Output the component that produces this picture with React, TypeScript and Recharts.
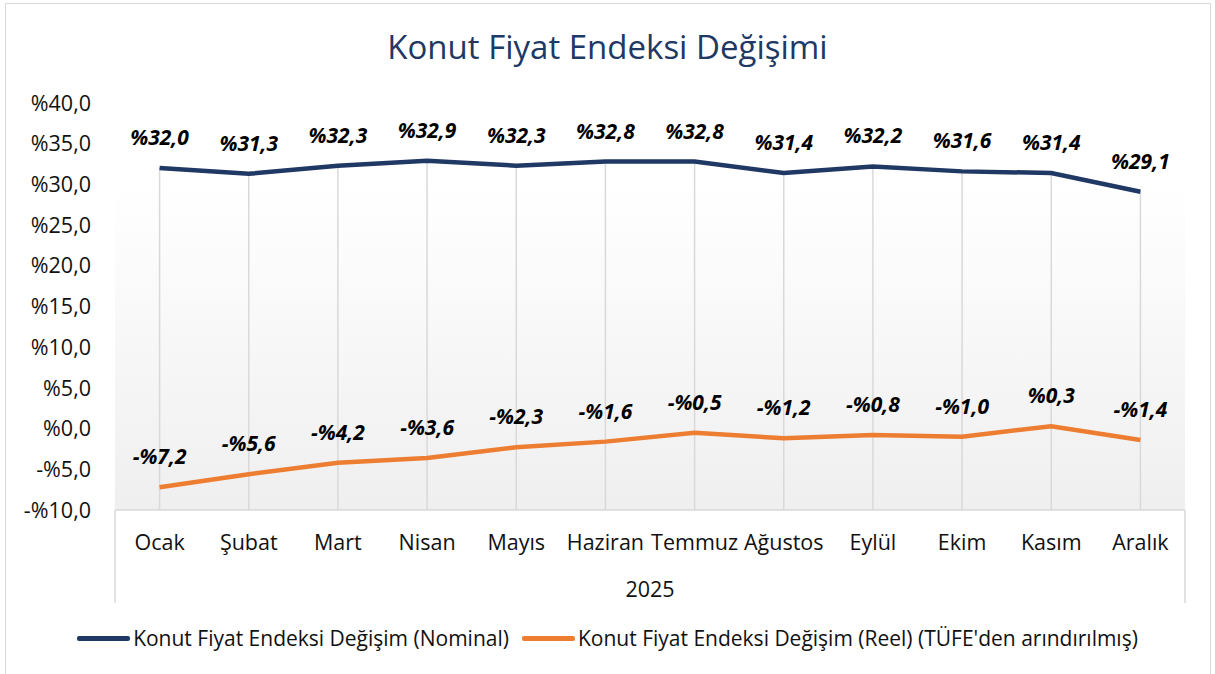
import { LineChart, Line, XAxis, YAxis, CartesianGrid, ReferenceLine, LabelList } from "recharts";

document.body.style.margin = "0";

const months = ["Ocak", "Şubat", "Mart", "Nisan", "Mayıs", "Haziran", "Temmuz", "Ağustos", "Eylül", "Ekim", "Kasım", "Aralık"];
const nominal = [32.0, 31.3, 32.3, 32.9, 32.3, 32.8, 32.8, 31.4, 32.2, 31.6, 31.4, 29.1];
const reel = [-7.2, -5.6, -4.2, -3.6, -2.3, -1.6, -0.5, -1.2, -0.8, -1.0, 0.3, -1.4];
const yTicks = [-10, -5, 0, 5, 10, 15, 20, 25, 30, 35, 40];

const data = months.map((m, i) => ({ month: m, nominal: nominal[i], reel: reel[i] }));

const NAVY = "#203864";
const ORANGE = "#ED7D31";
const GRID = "#d9d9d9";
const FONT = "'Open Sans', sans-serif";

const W = 1215;
const H = 674;
const X_AXIS_H = 95;
const M = { top: 103, right: 30, bottom: 69, left: 0 };
const Y_AXIS_W = 115;
const PLOT_W = W - M.left - M.right - Y_AXIS_W;
const AXIS_Y = H - M.bottom - X_AXIS_H;
const BAND = PLOT_W / months.length;

const pct = (v: number) => (v < 0 ? "-%" : "%") + Math.abs(v).toFixed(1).replace(".", ",");

const MonthTick = ({ x, y, payload, index }: any) => (
  <g>
    <text x={x} y={y} textAnchor="middle" dominantBaseline="central" fontSize={21.5} fill="#111" fontFamily={FONT}>
      {payload.value}
    </text>
    {index === 0 && <line x1={x - BAND / 2} x2={x - BAND / 2} y1={AXIS_Y} y2={AXIS_Y + 93} stroke={GRID} strokeWidth={1.5} />}
    {index === months.length - 1 && <line x1={x + BAND / 2} x2={x + BAND / 2} y1={AXIS_Y} y2={AXIS_Y + 93} stroke={GRID} strokeWidth={1.5} />}
  </g>
);

const ValueLabel = ({ x, y, value }: any) => (
  <text x={x} y={y - 31} textAnchor="middle" dominantBaseline="central" fontSize={21} fontWeight={700} fontStyle="italic" fill="#000" fontFamily={FONT}>
    {pct(value)}
  </text>
);

const legendItems = [
  { label: "Konut Fiyat Endeksi Değişim (Nominal)", color: NAVY },
  { label: "Konut Fiyat Endeksi Değişim (Reel) (TÜFE'den arındırılmış)", color: ORANGE },
];

export default function App() {
  return (
    <div style={{ position: "relative", width: W, height: H, background: "#fff", overflow: "hidden" }}>
      <div style={{ position: "absolute", left: 5, top: 3, width: 1204, height: 700, border: `1.5px solid ${GRID}` }} />
      <div style={{ position: "absolute", top: 24, left: 0, width: W, textAlign: "center", fontFamily: FONT, fontSize: 33, color: NAVY }}>
        Konut Fiyat Endeksi Değişimi
      </div>
      <div style={{ position: "absolute", left: 0, top: 0 }}>
        <LineChart width={W} height={H} data={data} margin={M}>
          <defs>
            <linearGradient id="plotBg" x1="0" y1="0" x2="0" y2="1">
              <stop offset="0%" stopColor="#ffffff" />
              <stop offset="20%" stopColor="#ffffff" />
              <stop offset="100%" stopColor="#efefef" />
            </linearGradient>
          </defs>
          <CartesianGrid horizontal={false} vertical={false} fill="url(#plotBg)" />
          <XAxis
            dataKey="month"
            axisLine={{ stroke: GRID, strokeWidth: 1.5 }}
            tickLine={false}
            tickSize={0}
            tick={<MonthTick />}
            tickMargin={31}
            interval={0}
            height={X_AXIS_H}
            padding={{ left: BAND / 2, right: BAND / 2 }}
            label={{ value: "2025", position: "insideBottom", offset: 8, fontSize: 21.5, fill: "#111", fontFamily: FONT }}
          />
          <YAxis
            domain={[-10, 40]}
            ticks={yTicks}
            width={Y_AXIS_W}
            axisLine={false}
            tickLine={false}
            tickSize={0}
            tickMargin={24}
            tickFormatter={pct}
            tick={{ fontSize: 21.5, fill: "#111", fontFamily: FONT }}
          />
          {data.map((d) => (
            <ReferenceLine key={d.month} segment={[{ x: d.month, y: -10 }, { x: d.month, y: d.nominal }]} stroke={GRID} strokeWidth={1.5} />
          ))}
          <Line dataKey="nominal" stroke={NAVY} strokeWidth={4.5} dot={false} isAnimationActive={false}>
            <LabelList dataKey="nominal" content={<ValueLabel />} />
          </Line>
          <Line dataKey="reel" stroke={ORANGE} strokeWidth={4.5} dot={false} isAnimationActive={false}>
            <LabelList dataKey="reel" content={<ValueLabel />} />
          </Line>
        </LineChart>
      </div>
      <div style={{ position: "absolute", top: 624, left: 0, width: W, display: "flex", justifyContent: "center", alignItems: "center", gap: 13, fontFamily: FONT, fontSize: 21, color: "#111" }}>
        {legendItems.map((it) => (
          <div key={it.label} style={{ display: "flex", alignItems: "center", gap: 3 }}>
            <span style={{ display: "inline-block", width: 53, height: 5, background: it.color, borderRadius: 2 }} />
            <span>{it.label}</span>
          </div>
        ))}
      </div>
    </div>
  );
}
